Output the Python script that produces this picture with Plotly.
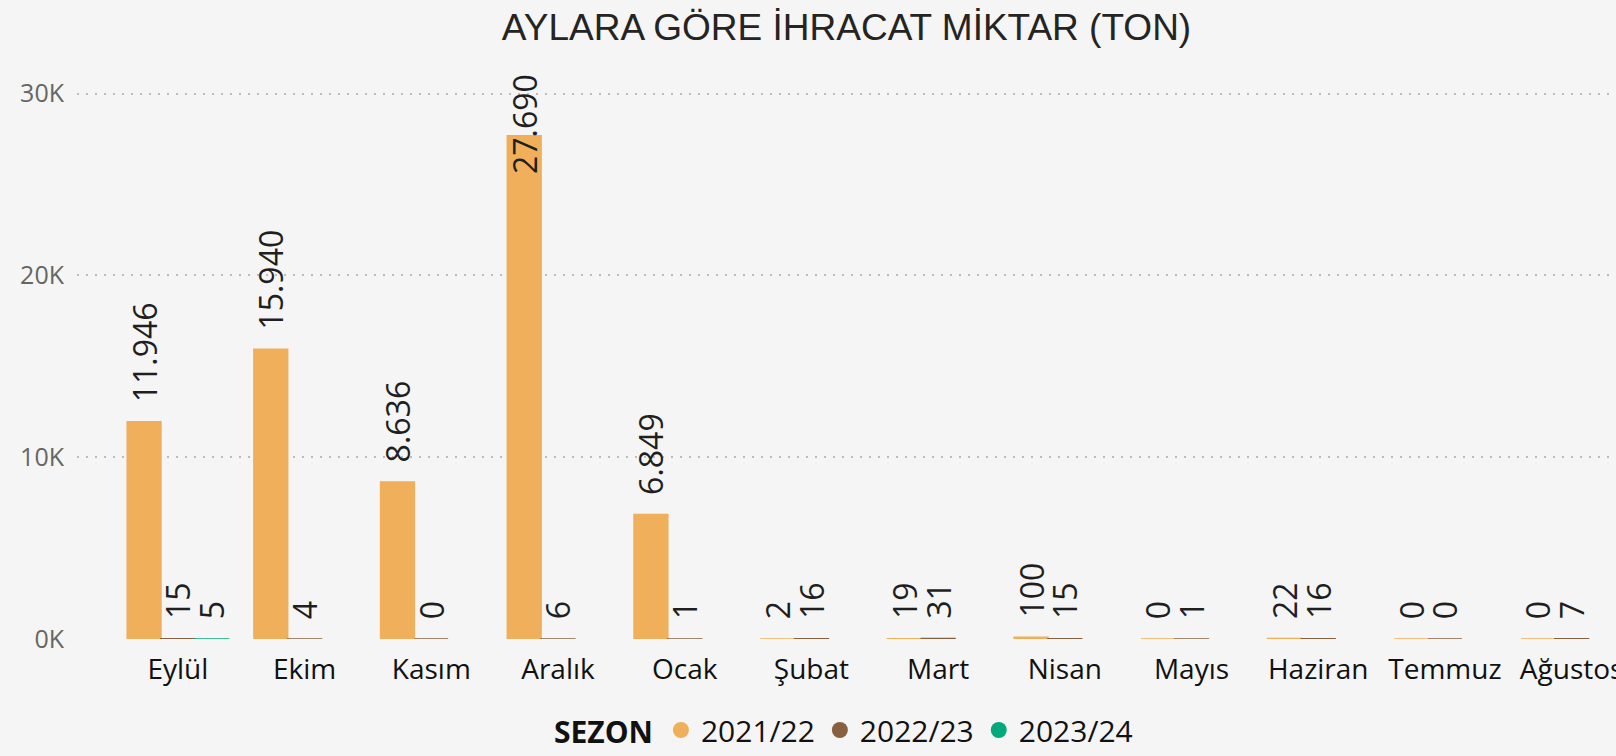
import plotly.graph_objects as go

months = ["Eylül", "Ekim", "Kasım", "Aralık", "Ocak", "Şubat", "Mart", "Nisan",
          "Mayıs", "Haziran", "Temmuz", "Ağustos"]
s2122 = [11946, 15940, 8636, 27690, 6849, 2, 19, 100, 0, 22, 0, 0]
s2223 = [15, 4, 0, 6, 1, 16, 31, 15, 1, 16, 0, 7]
s2324 = [5, None, None, None, None, None, None, None, None, None, None, None]
series_names = ["2021/22", "2022/23", "2023/24"]
colors = ["#EFAF5B", "#89603F", "#03A97A"]
y_tickvals = [0, 10000, 20000, 30000]
y_ticktext = ["0K", "10K", "20K", "30K"]

YMAX = 31030
NBSP = "\u00a0\u00a0"
LABEL_FONT = dict(family="Open Sans", size=32, color="#1F1F1F")

fig = go.Figure()
annotations = []
bar_w_px = 33.7
for k, (name, vals, col) in enumerate(zip(series_names, [s2122, s2223, s2324], colors)):
    texts, positions = [], []
    for i, v in enumerate(vals):
        if v is None:
            texts.append("")
            positions.append("none")
        elif v > 0.85 * YMAX:
            texts.append("")
            positions.append("none")
            annotations.append(dict(
                x=months[i], y=v, xref="x", yref="y", text=f"{v:,}".replace(",", "."),
                textangle=-90, showarrow=False, font=LABEL_FONT,
                xanchor="center", yanchor="middle",
                xshift=(k - 1) * bar_w_px, yshift=12))
        else:
            texts.append(NBSP + f"{v:,}".replace(",", "."))
            positions.append("outside")
    fig.add_trace(go.Bar(
        x=months, y=vals, name=name, marker=dict(color=col, line=dict(width=1.5, color=col)),
        text=texts, textposition=positions, textangle=-90,
        textfont=LABEL_FONT, outsidetextfont=LABEL_FONT,
        constraintext="none", cliponaxis=False, showlegend=False,
        hoverinfo="x+y+name"))
    fig.add_trace(go.Scatter(
        x=[None], y=[None], mode="markers", name=name,
        marker=dict(color=col, size=20, symbol="circle"), showlegend=True))

fig.update_layout(
    template="none",
    width=1616, height=756,
    margin=dict(l=77, r=0, t=75, b=114),
    paper_bgcolor="#F5F5F5", plot_bgcolor="#F5F5F5",
    barmode="group", bargap=0.2, bargroupgap=0,
    title=dict(text="AYLARA GÖRE İHRACAT MİKTAR (TON)",
               font=dict(family="Liberation Sans", size=37, color="#252423"),
               x=0.5, xref="paper", xanchor="center",
               y=1 - 27 / 756, yref="container", yanchor="middle"),
    legend=dict(orientation="h", x=0.499, xanchor="center", y=-0.162, yanchor="middle",
                title=dict(text="<b>SEZON</b>", font=dict(family="Open Sans", size=30, color="#111111")),
                font=dict(family="Open Sans", size=30, color="#111111"),
                itemwidth=30, bgcolor="rgba(0,0,0,0)", traceorder="normal"),
    annotations=annotations,
    font=dict(family="Open Sans"),
)
fig.update_xaxes(
    range=[-0.796, 11.35], showgrid=False, zeroline=False, showline=False,
    ticks="", tickfont=dict(family="Open Sans", size=28, color="#111111"),
    automargin=False, ticklabeloverflow="allow", ticklabelstandoff=11,
    fixedrange=True)
fig.update_yaxes(
    range=[0, YMAX], tickvals=y_tickvals, ticktext=y_ticktext,
    showgrid=True, gridcolor="#BDBDBD", griddash="2px,7px", gridwidth=1.5,
    zeroline=False, showline=False, ticks="",
    tickfont=dict(family="Open Sans", size=25, color="#666666"),
    automargin=False, ticklabelstandoff=12, fixedrange=True)

fig.write_html("out.html", config={"displayModeBar": False},
               post_script="document.body.style.margin='0';document.body.style.background='#F5F5F5';")
